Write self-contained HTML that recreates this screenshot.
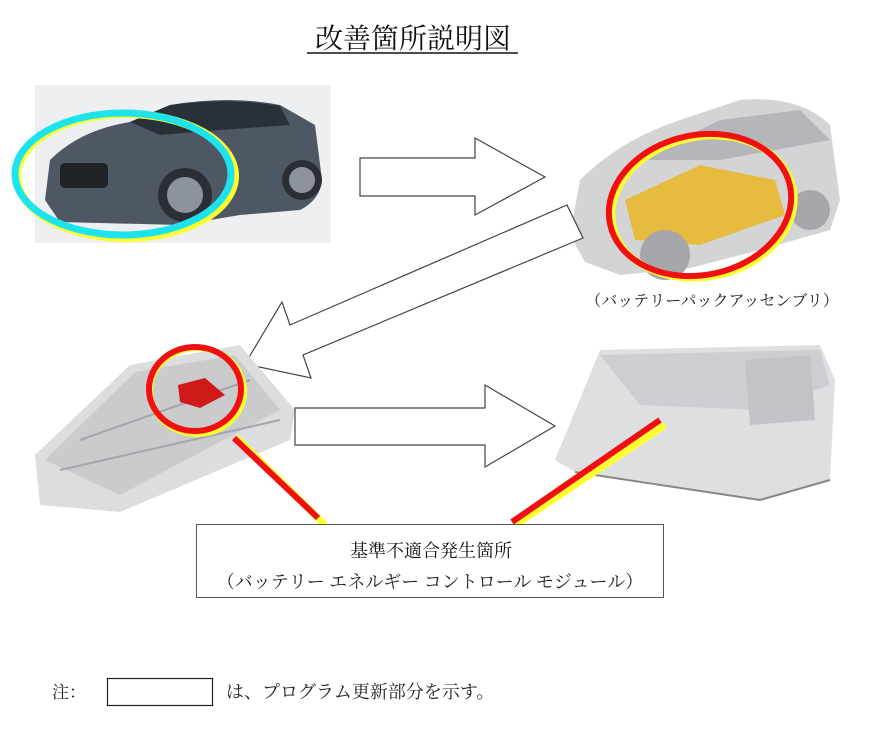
<!DOCTYPE html>
<html><head><meta charset="utf-8"><style>
body{margin:0;background:#fff;}
svg{display:block;}
text{font-family:"Liberation Serif","Noto Serif CJK SC","Noto Sans CJK JP",serif;}
</style></head><body>
<svg width="873" height="749" viewBox="0 0 873 749" xmlns="http://www.w3.org/2000/svg">
<rect width="873" height="749" fill="#fff"/>
<text x="413" y="48" font-size="28" text-anchor="middle" fill="#111">改善箇所説明図</text>
<line x1="307" y1="53" x2="518" y2="53" stroke="#111" stroke-width="1.5"/>

<!-- car photo -->
<rect x="35" y="85" width="296" height="158" fill="#eeeff0"/>
<path d="M45 200 L50 160 Q80 130 130 122 L170 105 Q230 95 280 105 L315 125 L322 180 Q320 200 300 210 L240 215 L180 225 L60 222 Z" fill="#4e5864"/>
<path d="M130 122 L170 105 Q230 97 280 106 L290 125 L220 130 L160 135 Z" fill="#2a3038"/>
<circle cx="185" cy="195" r="27" fill="#2b2f35"/><circle cx="185" cy="195" r="18" fill="#8c939b"/>
<circle cx="302" cy="180" r="20" fill="#2b2f35"/><circle cx="302" cy="180" r="13" fill="#8c939b"/>
<rect x="60" y="163" width="48" height="25" rx="5" fill="#1f2328"/>
<ellipse cx="126" cy="176" rx="109" ry="62" fill="none" stroke="#ffff30" stroke-width="8"/>
<ellipse cx="123" cy="174" rx="108" ry="61" fill="none" stroke="#1de3ee" stroke-width="7"/>

<!-- arrow 1 -->
<polygon points="360,158 475,158 475,138 545,177 475,215 475,196 360,196" fill="#fff" stroke="#444" stroke-width="1.2"/>

<!-- car render -->
<path d="M570 235 L580 180 Q620 140 680 120 L740 100 Q800 95 830 125 L840 200 L830 230 L760 250 L690 268 L620 275 L585 262 Z" fill="#d3d4d6"/>
<path d="M640 160 L720 120 L800 110 L830 140 L720 160 Z" fill="#b4b6b9"/>
<path d="M625 200 L700 165 L775 180 L785 215 L700 245 L635 240 Z" fill="#e8b830" opacity=".9"/>
<circle cx="665" cy="255" r="25" fill="#a5a7aa"/><circle cx="810" cy="210" r="20" fill="#a5a7aa"/>
<ellipse cx="703" cy="207" rx="92" ry="70" fill="none" stroke="#ffff30" stroke-width="7" transform="rotate(-12 703 207)"/>
<ellipse cx="700" cy="205" rx="92" ry="70" fill="none" stroke="#f01010" stroke-width="6" transform="rotate(-12 700 205)"/>
<text x="712" y="306" font-size="16" text-anchor="middle" fill="#222">（バッテリーパックアッセンブリ）</text>

<!-- diagonal arrow -->
<polygon points="567,205 583,238 303,355 311,378 245,364 282,302 290,325" fill="#fff" stroke="#444" stroke-width="1.2"/>

<!-- battery -->
<path d="M35 455 L130 365 L240 345 L295 410 L290 440 L120 512 L40 505 Z" fill="#dcdddf"/>
<path d="M45 460 L135 372 L235 355 L280 410 L120 495 Z" fill="#cacbcd"/>
<path d="M60 470 L280 420 M80 440 L250 380" stroke="#a5a6a9" stroke-width="2"/>
<path d="M178 385 L205 378 L225 395 L200 408 L180 402 Z" fill="#d01a1a"/>
<ellipse cx="197" cy="391" rx="47" ry="43" fill="none" stroke="#ffff30" stroke-width="6"/>
<ellipse cx="195" cy="389" rx="46" ry="42" fill="none" stroke="#f01010" stroke-width="6"/>

<!-- arrow 3 -->
<polygon points="295,408 485,408 485,385 555,426 485,467 485,445 295,445" fill="#fff" stroke="#444" stroke-width="1.2"/>

<!-- module -->
<path d="M555 460 L600 350 L820 345 L835 380 L830 480 L760 500 L575 472 Z" fill="#dedfe1"/>
<path d="M600 355 L820 350 L830 385 L760 410 L640 405 Z" fill="#cdced1"/>
<path d="M745 360 L810 355 L815 420 L750 425 Z" fill="#c2c3c6"/>
<path d="M575 472 L760 500 L830 480" fill="none" stroke="#888" stroke-width="2"/>

<!-- leader lines -->
<line x1="236" y1="437" x2="325" y2="525" stroke="#ffff30" stroke-width="7"/>
<line x1="234" y1="438" x2="318" y2="518" stroke="#f01010" stroke-width="6"/>
<line x1="665" y1="425" x2="515" y2="525" stroke="#ffff30" stroke-width="7"/>
<line x1="660" y1="420" x2="512" y2="522" stroke="#f01010" stroke-width="6"/>

<!-- callout box -->
<rect x="196.5" y="524.5" width="467" height="73" fill="#fff" stroke="#555" stroke-width="1"/>
<text x="431" y="557" font-size="18" text-anchor="middle" fill="#111" font-family="'Noto Sans CJK JP',sans-serif">基準不適合発生箇所</text>
<text x="430" y="588" font-size="18" text-anchor="middle" fill="#222">（バッテリー エネルギー コントロール モジュール）</text>

<!-- note -->
<text x="52" y="698" font-size="17" fill="#222">注：</text>
<rect x="107.5" y="678.5" width="105" height="27" fill="#fff" stroke="#222" stroke-width="1.2"/>
<text x="226" y="698" font-size="18" fill="#222">は、プログラム更新部分を示す。</text>
</svg>
</body></html>
